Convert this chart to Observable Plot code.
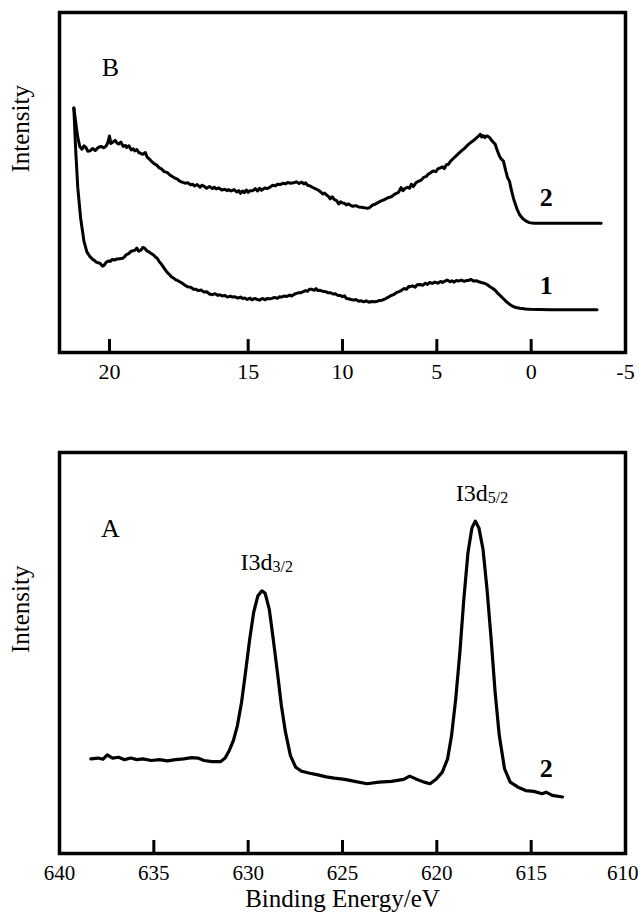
<!DOCTYPE html>
<html><head><meta charset="utf-8">
<script src="https://cdn.jsdelivr.net/npm/d3@7"></script>
<script src="https://cdn.jsdelivr.net/npm/@observablehq/plot@0.6"></script>
<style>body{margin:0;background:#fff;} #chart svg{display:block;}</style>
</head><body><div id="chart"></div>
<script>
// Panel B (valence band) – curve 2
const vbEnergy2 = [24.24,24.10,24.03,23.92,23.81,23.70,23.60,23.50,23.38,23.25,23.10,22.95,22.80,22.65,22.52,22.42,22.35,22.28,22.19,22.05,21.95,21.87,21.75,21.62,21.50,21.44,21.32,21.20,21.10,21.00,20.90,20.80,20.70,20.58,20.45,20.35,20.25,20.14,20.00,19.85,19.71,19.60,19.45,19.28,19.15,19.00,18.85,18.75,18.63,18.50,18.35,18.20,18.05,17.95,17.85,17.70,17.55,17.45,17.34,17.20,17.05,16.90,16.80,16.69,16.55,16.40,16.25,16.10,16.04,15.90,15.75,15.60,15.50,15.40,15.30,15.20,15.10,15.00,14.90,14.75,14.62,14.50,14.40,14.30,14.20,14.10,14.00,13.85,13.70,13.55,13.45,13.30,13.15,13.02,12.90,12.75,12.59,12.45,12.30,12.16,12.05,11.95,11.85,11.73,11.60,11.45,11.30,11.15,11.05,10.95,10.86,10.75,10.65,10.55,10.43,10.30,10.20,10.10,10.00,9.90,9.80,9.70,9.57,9.45,9.30,9.14,9.00,8.85,8.70,8.60,8.50,8.40,8.27,8.15,8.05,7.95,7.84,7.70,7.55,7.41,7.30,7.15,7.05,6.98,6.90,6.80,6.70,6.55,6.45,6.35,6.25,6.11,6.00,5.85,5.70,5.55,5.47,5.35,5.20,5.05,4.95,4.82,4.70,4.60,4.50,4.39,4.25,4.10,3.95,3.80,3.65,3.50,3.40,3.31,3.15,3.00,2.88,2.80,2.70,2.62,2.55,2.45,2.38,2.30,2.20,2.10,2.00,1.91,1.80,1.70,1.60,1.47,1.35,1.25,1.15,1.05,0.95,0.89,0.75,0.61,0.45,0.29,0.10,-0.14,-1.00,-2.00,-3.00,-3.71];
const vbIntensity2 = [71.9,66.0,63.2,60.5,59.8,60.8,60.3,59.2,59.3,60.0,59.4,60.3,60.6,60.2,60.8,62.0,63.7,61.5,61.8,62.4,61.6,61.3,61.9,60.6,60.9,60.3,60.8,59.6,59.9,59.3,59.7,58.8,58.6,58.3,58.8,57.4,57.0,56.3,55.6,55.1,54.3,54.0,53.2,52.9,52.2,51.7,51.2,51.0,50.4,50.1,49.8,49.9,49.3,49.5,49.0,49.4,48.6,49.2,48.9,48.3,48.8,48.2,48.6,48.1,48.4,47.8,48.0,47.6,47.9,47.5,47.9,47.2,47.6,46.8,47.5,47.0,47.8,47.1,47.6,47.6,48.2,47.5,48.3,47.7,48.1,48.4,48.2,48.6,49.2,49.0,49.5,49.4,49.8,49.6,50.0,49.8,49.9,50.2,49.7,50.1,49.6,49.9,49.2,49.0,48.6,48.2,47.8,47.2,46.6,46.9,46.4,45.9,45.2,45.8,45.0,44.6,43.7,44.3,44.0,43.9,43.4,43.7,43.3,43.0,43.2,42.8,42.7,42.6,42.4,42.5,42.9,43.4,43.6,44.0,44.3,44.6,44.8,45.2,45.6,45.8,46.3,46.8,47.0,47.6,48.5,47.6,48.2,48.6,48.3,49.5,48.8,49.9,50.3,50.6,51.5,51.8,52.4,52.8,53.4,53.2,54.0,54.3,54.6,54.1,55.2,55.3,56.4,57.2,58.0,58.8,59.5,60.2,60.8,61.3,62.0,62.6,63.2,63.6,64.2,63.4,63.8,63.2,63.7,63.6,63.2,62.4,61.8,61.3,59.5,58.0,57.0,56.3,53.5,51.4,50.4,47.8,45.6,44.5,42.2,40.5,39.4,38.7,38.2,38.0,38.0,38.0,38.0,38.0];
// Panel B – curve 1
const vbEnergy1 = [24.24,24.14,24.03,23.88,23.70,23.55,23.40,23.25,23.17,23.05,22.95,22.84,22.72,22.63,22.52,22.41,22.30,22.20,22.09,21.95,21.80,21.65,21.55,21.45,21.33,21.20,21.10,21.00,20.90,20.80,20.68,20.58,20.47,20.35,20.25,20.14,20.00,19.90,19.82,19.70,19.60,19.50,19.40,19.28,19.15,19.06,18.95,18.85,18.75,18.63,18.50,18.35,18.20,18.05,17.90,17.77,17.65,17.50,17.34,17.20,17.05,16.90,16.75,16.60,16.50,16.37,16.25,16.10,15.95,15.83,15.70,15.55,15.40,15.30,15.18,15.05,14.90,14.80,14.65,14.53,14.40,14.25,14.10,14.00,13.88,13.75,13.60,13.45,13.35,13.24,13.10,12.95,12.80,12.70,12.59,12.45,12.30,12.20,12.05,11.95,11.85,11.75,11.62,11.50,11.40,11.30,11.19,11.05,10.90,10.78,10.65,10.50,10.38,10.25,10.11,10.00,9.90,9.80,9.68,9.55,9.40,9.30,9.14,9.00,8.88,8.75,8.60,8.45,8.30,8.17,8.05,7.90,7.73,7.60,7.45,7.30,7.15,7.00,6.87,6.75,6.60,6.50,6.44,6.30,6.15,6.05,5.90,5.75,5.60,5.50,5.38,5.25,5.10,4.95,4.80,4.70,4.60,4.45,4.30,4.20,4.10,3.96,3.85,3.70,3.55,3.40,3.31,3.20,3.05,2.90,2.77,2.65,2.50,2.34,2.20,2.05,1.91,1.75,1.60,1.47,1.30,1.15,1.04,0.85,0.61,0.30,0.07,-1.00,-2.00,-3.00,-3.49];
const vbIntensity1 = [71.9,59.3,48.4,39.5,32.6,29.6,28.3,27.4,27.2,26.6,26.4,26.2,25.4,25.7,26.6,26.9,26.8,27.4,27.2,27.5,27.6,27.7,28.2,28.8,29.1,29.8,29.9,30.1,30.7,29.8,30.1,30.9,30.6,29.8,29.6,29.1,28.6,28.0,27.7,26.6,26.0,25.2,24.4,23.5,22.8,22.2,21.9,21.4,21.2,20.8,20.4,19.8,19.3,19.2,18.6,18.6,18.2,18.4,17.8,17.9,17.2,17.0,17.3,16.8,17.0,16.6,16.8,16.3,16.6,16.3,16.4,16.0,16.3,15.9,16.0,15.6,16.0,15.5,15.9,15.6,15.4,15.9,15.5,15.9,15.8,15.9,16.2,15.9,16.4,16.3,16.6,16.5,16.9,16.6,17.0,17.4,17.6,17.6,18.0,18.2,18.0,18.6,18.6,18.3,18.8,18.2,18.3,18.0,17.9,17.6,17.6,17.2,17.3,16.8,16.8,16.4,16.7,15.9,15.8,15.6,15.4,15.6,15.1,15.2,14.9,15.2,14.8,15.0,14.9,15.0,15.3,15.4,15.8,16.2,16.7,17.0,17.6,17.9,18.3,18.8,18.6,19.4,19.3,19.6,19.2,19.9,20.0,19.8,20.4,20.0,20.6,20.3,20.7,20.4,20.9,20.6,20.9,21.3,20.8,21.1,20.7,21.2,21.0,21.3,20.9,21.2,21.2,21.5,21.0,21.1,20.8,20.6,20.4,20.0,19.4,18.9,18.3,17.3,16.5,15.8,14.9,14.2,13.8,13.3,13.0,12.8,12.7,12.6,12.6,12.6,12.6];
// Panel A – I 3d core level, sample 2
const i3dEnergy = [638.34,637.95,637.70,637.47,637.19,636.87,636.55,636.22,635.90,635.58,635.14,634.71,634.28,633.85,633.42,632.99,632.66,632.34,631.91,631.47,631.22,631.00,630.78,630.57,630.35,630.14,629.92,629.71,629.49,629.27,629.10,628.88,628.67,628.45,628.24,628.02,627.76,627.48,627.16,626.73,626.30,625.86,625.43,624.89,624.35,623.70,623.06,622.41,621.76,621.44,621.11,620.68,620.36,620.04,619.71,619.43,619.22,619.00,618.78,618.57,618.35,618.14,617.96,617.77,617.55,617.34,617.12,616.91,616.69,616.41,616.11,615.72,615.29,614.86,614.42,614.21,613.88,613.34];
const i3dIntensity = [23.6,23.8,23.5,24.6,23.8,24.0,23.4,23.8,23.4,23.6,23.2,23.4,23.1,23.4,23.6,23.9,23.8,23.2,22.9,22.9,23.8,25.7,28.2,31.9,37.7,45.2,53.4,60.1,64.2,65.5,64.9,60.9,53.4,45.2,36.9,30.2,24.4,21.5,20.5,20.0,19.6,19.1,18.8,18.5,18.0,17.4,17.8,18.0,18.5,19.3,18.6,17.8,17.4,18.5,20.3,23.6,29.4,38.5,50.1,63.4,75.0,81.2,82.9,81.2,75.8,65.9,53.4,40.2,29.4,21.1,17.8,16.6,15.7,15.5,14.9,15.3,14.5,14.1];

const vbTickValues = [22.35, 15, 10, 5, 0, -5];
const vbTickLabels = ["20", "15", "10", "5", "0", "-5"];
const vbTickMarks = [22.35, 15, 10, 5, 0];
const i3dTickValues = [640, 635, 630, 625, 620, 615];
const i3dLastTick = [610];
const i3dTickMarks = [635, 630, 625, 620, 615];

const panelBLabel = [{x: 22.3, y: 83.9, t: "B"}];
const curveLabelsB = [{x: -0.8, y: 45.6, t: "2"}, {x: -0.8, y: 19.7, t: "1"}];
const panelALabel = [{x: 637.3, y: 81, t: "A"}];
const curveLabelsA = [{x: 614.2, y: 21.2, t: "2"}];
const peakLabels = [{x: 628.71, y: 72.5, main: "I3d", sub: "3/2"}, {x: 617.3, y: 89.8, main: "I3d", sub: "5/2"}];

const FONT = "'Liberation Serif', 'Times New Roman', serif";
const rows2 = vbEnergy2.map((e, i) => ({e, v: vbIntensity2[i]}));
const rows1 = vbEnergy1.map((e, i) => ({e, v: vbIntensity1[i]}));
const rowsA = i3dEnergy.map((e, i) => ({e, v: i3dIntensity[i]}));

const topPlot = Plot.plot({
  width: 638, height: 400,
  marginLeft: 59, marginRight: 13, marginTop: 12, marginBottom: 48,
  style: {fontFamily: FONT, fontSize: "22px", background: "#fff", color: "#000"},
  x: {domain: [25, -5], axis: null},
  y: {domain: [0, 100], axis: null},
  marks: [
    Plot.text(vbTickValues, {x: d => d, text: (d, i) => vbTickLabels[i], frameAnchor: "bottom", lineAnchor: "top", dy: 11, fontSize: 22, fontFamily: FONT}),
    Plot.line(rows1, {x: "e", y: "v", stroke: "#000", strokeWidth: 3, curve: "linear"}),
    Plot.line(rows2, {x: "e", y: "v", stroke: "#000", strokeWidth: 3, curve: "linear"}),
    Plot.ruleX(vbTickMarks, {x: d => d, y1: 0, y2: 3.8, stroke: "#000", strokeWidth: 3}),
    Plot.frame({stroke: "#000", strokeWidth: 3.5}),
    Plot.text(panelBLabel, {x: "x", y: "y", text: "t", fontSize: 26, fontFamily: FONT}),
    Plot.text(curveLabelsB, {x: "x", y: "y", text: "t", fontSize: 26, fontWeight: "bold", fontFamily: FONT}),
    Plot.text(["Intensity"], {frameAnchor: "left", dx: -39, dy: -10, rotate: -90, fontSize: 25, fontFamily: FONT})
  ]
});

const bottomPlot = Plot.plot({
  width: 638, height: 519,
  marginLeft: 59, marginRight: 13, marginTop: 52, marginBottom: 66,
  style: {fontFamily: FONT, fontSize: "22px", background: "#fff", color: "#000"},
  x: {domain: [640, 610], axis: null},
  y: {domain: [0, 100], axis: null},
  marks: [
    Plot.text(i3dTickValues, {x: d => d, text: d => String(d), frameAnchor: "bottom", lineAnchor: "top", dy: 12, fontSize: 21, fontFamily: FONT}),
    Plot.text(i3dLastTick, {x: d => d, text: d => String(d), frameAnchor: "bottom", lineAnchor: "top", textAnchor: "end", dx: 13, dy: 12, fontSize: 21, fontFamily: FONT}),
    Plot.line(rowsA, {x: "e", y: "v", stroke: "#000", strokeWidth: 3.2, curve: "linear"}),
    Plot.ruleX(i3dTickMarks, {x: d => d, y1: 0, y2: 3.25, stroke: "#000", strokeWidth: 3}),
    Plot.frame({stroke: "#000", strokeWidth: 3.5}),
    Plot.text(panelALabel, {x: "x", y: "y", text: "t", fontSize: 26, fontFamily: FONT}),
    Plot.text(curveLabelsA, {x: "x", y: "y", text: "t", fontSize: 26, fontWeight: "bold", fontFamily: FONT}),
    Plot.text(peakLabels, {x: "x", y: "y", text: "main", textAnchor: "end", fontSize: 24, fontFamily: FONT}),
    Plot.text(peakLabels, {x: "x", y: "y", text: "sub", textAnchor: "start", dy: 4, fontSize: 16, fontFamily: FONT}),
    Plot.text(["Intensity"], {frameAnchor: "left", dx: -39, rotate: -90, fontSize: 25, fontFamily: FONT}),
    Plot.text(["Binding Energy/eV"], {frameAnchor: "bottom", dy: 53, fontSize: 25, fontFamily: FONT})
  ]
});

const chart = document.getElementById("chart");
chart.appendChild(topPlot);
chart.appendChild(bottomPlot);
</script>
</body></html>
